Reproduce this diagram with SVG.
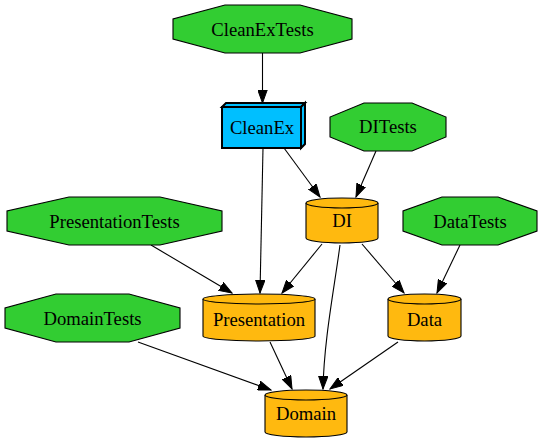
<svg xmlns="http://www.w3.org/2000/svg" width="546" height="443" viewBox="0 0 546 443">
<style>
.oct{fill:#32cd32;stroke:#000;stroke-width:1.1}
.box{fill:#00bfff;stroke:#000;stroke-width:2}
.cyl{fill:#ffb90f;stroke:#000;stroke-width:1.1}
text{font-family:"Liberation Serif","Times New Roman",serif;font-size:18.67px;text-anchor:middle;fill:#000}
.edge{fill:none;stroke:#000;stroke-width:1.1;marker-end:url(#arr)}
</style>
<defs>
<marker id="arr" markerUnits="userSpaceOnUse" markerWidth="14" markerHeight="10" refX="13" refY="5" orient="auto">
<path d="M0,0.3 L13,5 L0,9.7 Z" fill="#000" stroke="#000" stroke-width="1"/>
</marker>
</defs>
<g id="connectors">
<line class="edge" x1="262.5" y1="53" x2="262.5" y2="103"/>
<line class="edge" x1="284" y1="148" x2="320" y2="197"/>
<line class="edge" x1="263" y1="148" x2="260" y2="293"/>
<line class="edge" x1="376" y1="151" x2="356" y2="197"/>
<line class="edge" x1="322" y1="244" x2="282" y2="293"/>
<path class="edge" d="M340,245 C334,290 324,340 323,389"/>
<line class="edge" x1="362" y1="244" x2="404" y2="293"/>
<line class="edge" x1="151" y1="245" x2="232" y2="293"/>
<line class="edge" x1="460" y1="245" x2="437" y2="293"/>
<line class="edge" x1="270" y1="342" x2="292" y2="389"/>
<line class="edge" x1="398" y1="342" x2="330" y2="389"/>
<line class="edge" x1="138" y1="342" x2="271" y2="390"/>
</g>
<g id="CleanExTests">
<polygon class="oct" points="225,5 300,5 352,19 352,39 300,53 225,53 173,39 173,19"/>
<text x="262.5" y="36">CleanExTests</text>
</g>
<g id="CleanEx">
<polygon class="box" points="222,107 301,107 301,148 222,148"/>
<polygon class="box" points="222,107 226,103 305,103 301,107"/>
<polygon class="box" points="301,107 305,103 305,144 301,148"/>
<text x="262" y="134">CleanEx</text>
</g>
<g id="DITests">
<polygon class="oct" points="364,103 412,103 446,117 446,137 412,151 364,151 330,137 330,117"/>
<text x="388" y="133">DITests</text>
</g>
<g id="DI">
<path class="cyl" d="M306,203 A36,5 0 0 1 378,203 V238 A36,5 0 0 1 306,238 Z"/>
<path class="cyl" fill="none" d="M306,203 A36,5 0 0 0 378,203"/>
<text x="342" y="227">DI</text>
</g>
<g id="PresentationTests">
<polygon class="oct" points="69,197 160,197 222,211 222,231 160,245 69,245 7,231 7,211"/>
<text x="114.5" y="228">PresentationTests</text>
</g>
<g id="DataTests">
<polygon class="oct" points="442,197 498,197 537,211 537,231 498,245 442,245 403,231 403,211"/>
<text x="470" y="228">DataTests</text>
</g>
<g id="Presentation">
<path class="cyl" d="M203,299 A56,5 0 0 1 315,299 V336 A56,5 0 0 1 203,336 Z"/>
<path class="cyl" d="M203,299 A56,5 0 0 0 315,299"/>
<text x="259" y="326">Presentation</text>
</g>
<g id="Data">
<path class="cyl" d="M388,299 A36.5,5 0 0 1 461,299 V336 A36.5,5 0 0 1 388,336 Z"/>
<path class="cyl" d="M388,299 A36.5,5 0 0 0 461,299"/>
<text x="424.5" y="326">Data</text>
</g>
<g id="DomainTests">
<polygon class="oct" points="56,294 129,294 180,308 180,328 129,342 56,342 5,328 5,308"/>
<text x="92.5" y="325">DomainTests</text>
</g>
<g id="Domain">
<path class="cyl" d="M265,395 A41,5 0 0 1 347,395 V432 A41,5 0 0 1 265,432 Z"/>
<path class="cyl" d="M265,395 A41,5 0 0 0 347,395"/>
<text x="306" y="420">Domain</text>
</g>
</svg>
